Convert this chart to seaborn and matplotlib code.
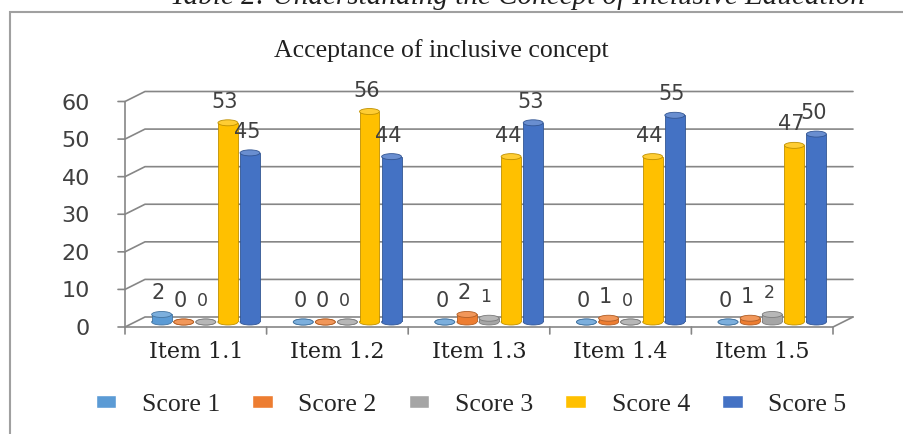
import numpy as np
import pandas as pd
import seaborn as sns
import matplotlib.pyplot as plt
import matplotlib.colors as mcolors
from matplotlib.patches import Ellipse, Rectangle, Patch

# chart data
items = ["Item 1.1", "Item 1.2", "Item 1.3", "Item 1.4", "Item 1.5"]
scores = ["Score 1", "Score 2", "Score 3", "Score 4", "Score 5"]
score1 = [2, 0, 0, 0, 0]
score2 = [0, 0, 2, 1, 1]
score3 = [0, 0, 1, 0, 2]
score4 = [53, 56, 44, 44, 47]
score5 = [45, 44, 53, 55, 50]
yticks = [0, 10, 20, 30, 40, 50, 60]
colors = ["#5B9BD5", "#ED7D31", "#A5A5A5", "#FFC000", "#4472C4"]
label_sizes = [15, 15, 12.5, 15, 15]

df = pd.DataFrame({
    "Item": items * 5,
    "Score": np.repeat(scores, len(items)),
    "Count": score1 + score2 + score3 + score4 + score5,
})

sns.set_style("white")
plt.rcParams["font.family"] = ["DejaVu Sans"]

W, H = 904, 434
fig = plt.figure(figsize=(W / 100, H / 100), dpi=100)

# axes = middle plane of the fake 3-D box
ax_l, ax_r, ax_b, ax_t = 135, 843, 322, 96.5
ax = fig.add_axes([ax_l / W, 1 - ax_b / H, (ax_r - ax_l) / W, (ax_b - ax_t) / H])

sns.barplot(data=df, x="Item", y="Count", hue="Score", palette=colors,
            width=0.78, gap=0.1, saturation=1, legend=False, ax=ax, zorder=2)
ax.set_xlim(-0.5, 4.5)
ax.set_ylim(0, 60)
ax.set_axis_off()

# depth offsets (10 px sideways, 5 px up) in data units
dx = 10 / ((ax_r - ax_l) / len(items))
dy = 5 / ((ax_b - ax_t) / 60)
x0, x1 = -0.5, len(items) - 0.5
line_c = "#868686"

# back wall grid + left wall diagonals
for y in yticks:
    ax.plot([x0 - dx, x0 + dx, x1 + dx], [y - dy, y + dy, y + dy],
            color=line_c, lw=1.2, clip_on=False, zorder=0.5)
# floor front edge, right edge, left axis
ax.plot([x0 - dx, x1 - dx, x1 + dx], [-dy, -dy, dy], color=line_c, lw=1.2,
        clip_on=False, zorder=0.5)
ax.plot([x0 - dx, x0 - dx], [-dy, 60 - dy], color=line_c, lw=1.2,
        clip_on=False, zorder=0.5)

tick_arrow = dict(arrowstyle="-", color=line_c, lw=1.2, shrinkA=0, shrinkB=0)

# y ticks and labels on the front plane
for y in yticks:
    ax.annotate("", xy=(x0 - dx, y - dy), xytext=(-7, 0), textcoords="offset pixels",
                arrowprops=tick_arrow, annotation_clip=False)
    ax.annotate(str(y), xy=(x0 - dx, y - dy), xytext=(-35, -2), textcoords="offset pixels",
                ha="right", va="center", fontsize=16, color="#404040",
                annotation_clip=False)

# x ticks at group boundaries and item labels
for b in np.arange(x0, x1 + 0.01, 1):
    ax.annotate("", xy=(b - dx, -dy), xytext=(0, -7), textcoords="offset pixels",
                arrowprops=tick_arrow, annotation_clip=False)
for i, name in enumerate(items):
    ax.annotate(name, xy=(i - dx, -dy), xytext=(0, -25), textcoords="offset pixels",
                ha="center", va="center", fontsize=16, family="DejaVu Serif",
                color="#202020", annotation_clip=False)

# cylinder caps, edges and value labels
cap_h = 6 / ((ax_b - ax_t) / 60)
for cont, col, fs in zip(ax.containers, colors, label_sizes):
    dark = np.array(mcolors.to_rgb(col)) * 0.75
    light = np.array(mcolors.to_rgb(col)) * 0.8 + 0.2
    for bar in cont:
        bx, bw, bh = bar.get_x(), bar.get_width(), bar.get_height()
        cx = bx + bw / 2
        bar.set_edgecolor(dark)
        bar.set_linewidth(0.6)
        ax.add_patch(Ellipse((cx, 0), bw, cap_h, facecolor=col, edgecolor=dark,
                             lw=0.6, zorder=1.9, clip_on=False))
        ax.add_patch(Ellipse((cx, bh), bw, cap_h, facecolor=light, edgecolor=dark,
                             lw=0.6, zorder=2.1, clip_on=False))
        ax.annotate(f"{bh:.0f}", xy=(cx, bh), xytext=(-3, 21), textcoords="offset pixels",
                    ha="center", va="center", fontsize=fs, color="#404040",
                    annotation_clip=False, zorder=3)

# legend
handles = [Patch(facecolor=c, label=s) for c, s in zip(colors, scores)]
fig.legend(handles=handles, loc="center", bbox_to_anchor=(471 / W, 1 - 405 / H), ncol=5,
           frameon=False, prop={"family": "Liberation Serif", "size": 18.5},
           handlelength=0.8, handleheight=0.4, handletextpad=1.0, columnspacing=1.25)

# titles and frame
fig.text(441 / W, 1 - 57 / H, "Acceptance of inclusive concept", ha="center", va="baseline",
         fontsize=18.5, family="Liberation Serif", color="#202020")
fig.text(517 / W, 1 - 4 / H, "Table 2: Understanding the Concept of Inclusive Education",
         ha="center", va="baseline", fontsize=21, style="italic", family="Liberation Serif",
         color="#202020")
fig.add_artist(Rectangle((10 / W, -0.1), 1.2, 1.1 - 12 / H, transform=fig.transFigure,
                         fill=False, edgecolor="#a0a0a0", lw=1.5))

fig.savefig("out.png", dpi=100)
